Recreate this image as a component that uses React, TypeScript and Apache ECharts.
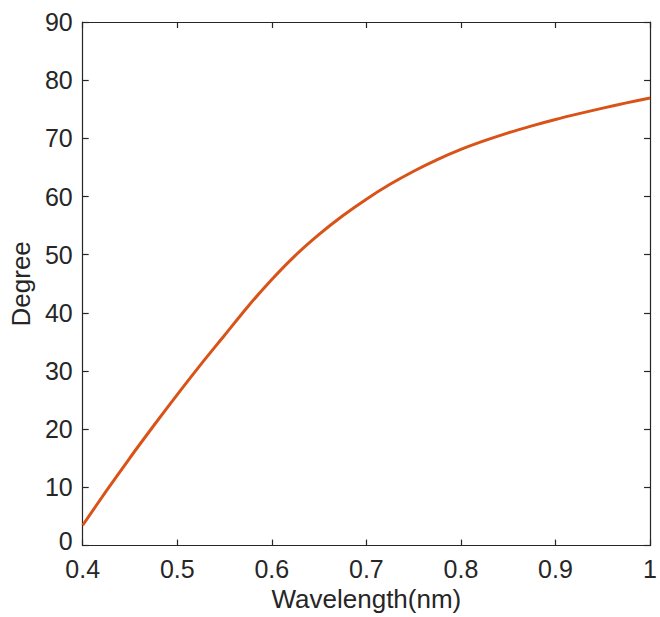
import React, { useEffect, useRef } from "react";
import * as echarts from "echarts";

const wavelength = [
  0.4, 0.425, 0.45, 0.475, 0.5, 0.525, 0.55, 0.575, 0.6, 0.625, 0.65, 0.675, 0.7,
  0.725, 0.75, 0.775, 0.8, 0.825, 0.85, 0.875, 0.9, 0.925, 0.95, 0.975, 1.0,
];
const degree = [
  3.5, 9.4, 15.1, 20.6, 25.95, 31.15, 36.15, 41.15, 45.75, 49.9, 53.5, 56.7, 59.55,
  62.1, 64.35, 66.35, 68.1, 69.6, 70.95, 72.15, 73.25, 74.25, 75.2, 76.1, 76.95,
];

const xName = "Wavelength(nm)";
const yName = "Degree";

const AXIS_COLOR = "#262626";
const FONT = "'Liberation Sans', Arial, Helvetica, sans-serif";

export default function App() {
  const ref = useRef<HTMLDivElement>(null);
  useEffect(() => {
    document.body.style.margin = "0";
    document.documentElement.style.overflow = "hidden";
    const chart = echarts.init(ref.current!, undefined, { renderer: "svg" });
    const axisLine = { show: true, onZero: false, lineStyle: { color: AXIS_COLOR, width: 1.2 } };
    const axisTick = { show: true, inside: true, length: 6, lineStyle: { color: AXIS_COLOR, width: 1.2 } };
    const fmtX = (v: number) => String(Math.round(v * 10) / 10);
    const fmtY = (v: number) => (v === 0 ? "{z|0}" : String(v));
    chart.setOption({
      animation: false,
      backgroundColor: "#ffffff",
      grid: { left: 82, right: 7, top: 22, bottom: 63, containLabel: false },
      xAxis: [
        {
          type: "value",
          position: "bottom",
          min: 0.4,
          max: 1,
          interval: 0.1,
          name: xName,
          nameLocation: "middle",
          nameGap: 38,
          nameTextStyle: { color: AXIS_COLOR, fontSize: 26, fontFamily: FONT },
          axisLine,
          axisTick,
          splitLine: { show: false },
          axisLabel: {
            color: AXIS_COLOR,
            fontSize: 25,
            lineHeight: 18,
            fontFamily: FONT,
            margin: 14,
            formatter: fmtX,
          },
        },
        {
          type: "value",
          position: "top",
          min: 0.4,
          max: 1,
          interval: 0.1,
          axisLine,
          axisTick,
          splitLine: { show: false },
          axisLabel: { show: false },
        },
      ],
      yAxis: [
        {
          type: "value",
          position: "left",
          min: 0,
          max: 90,
          interval: 10,
          name: yName,
          nameLocation: "middle",
          nameGap: 45,
          nameTextStyle: { color: AXIS_COLOR, fontSize: 26, fontFamily: FONT },
          axisLine,
          axisTick,
          splitLine: { show: false },
          axisLabel: {
            color: AXIS_COLOR,
            fontSize: 25,
            lineHeight: 18,
            fontFamily: FONT,
            margin: 10,
            formatter: fmtY,
            rich: {
              z: {
                color: AXIS_COLOR,
                fontSize: 25,
                fontFamily: FONT,
                lineHeight: 18,
                padding: [0, 0, 10, 0],
              },
            },
          },
        },
        {
          type: "value",
          position: "right",
          min: 0,
          max: 90,
          interval: 10,
          axisLine,
          axisTick,
          splitLine: { show: false },
          axisLabel: { show: false },
        },
      ],
      series: [
        {
          type: "line",
          xAxisIndex: 0,
          yAxisIndex: 0,
          data: wavelength.map((w, i) => [w, degree[i]]),
          smooth: 0.3,
          showSymbol: false,
          lineStyle: { color: "#D95319", width: 3 },
        },
      ],
    });
    return () => chart.dispose();
  }, []);
  return (
    <div
      ref={ref}
      style={{ position: "absolute", left: 0, top: 0, width: 660, height: 617 }}
    />
  );
}
